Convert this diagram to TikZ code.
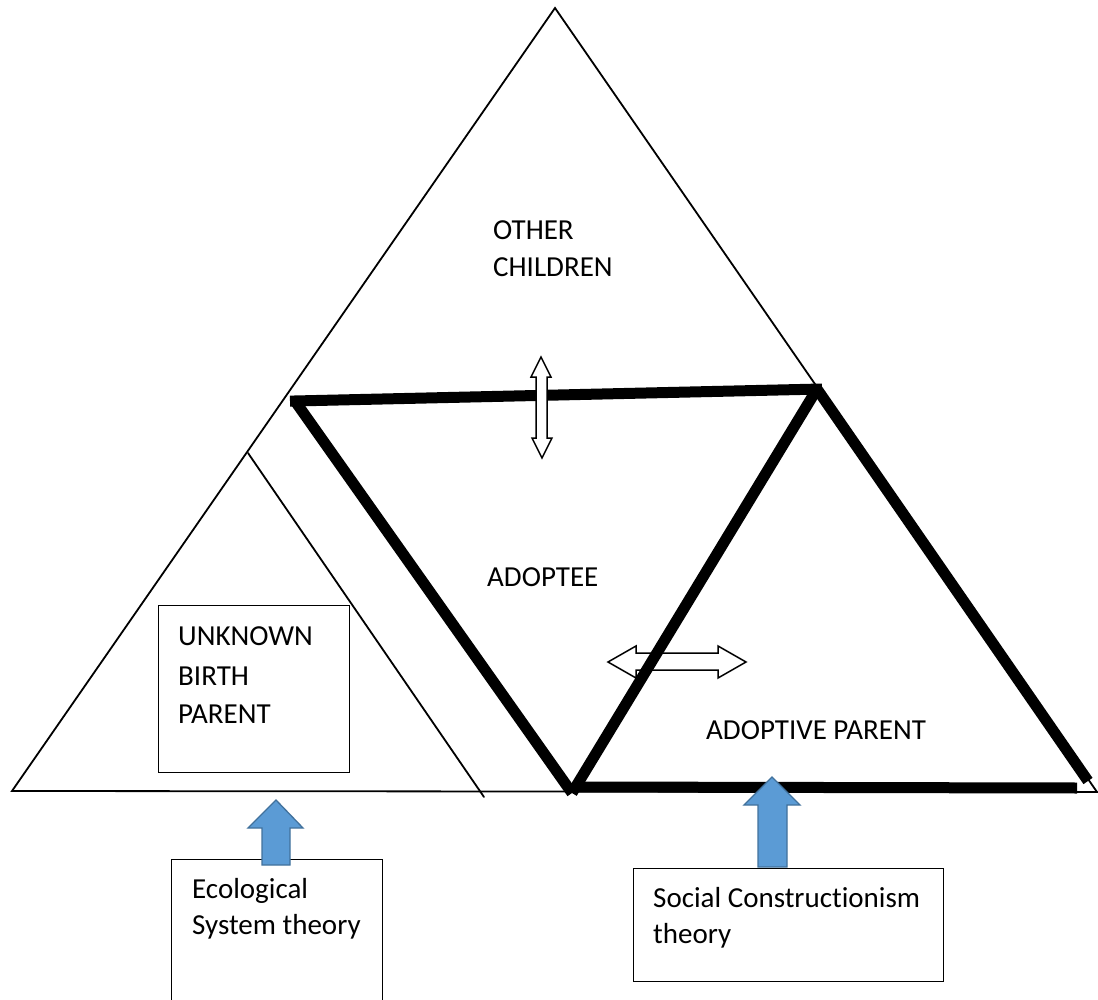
\documentclass[tikz,border=0pt]{standalone}
\usepackage{fontspec}
\setmainfont{Carlito}[Ligatures={NoCommon}]
\begin{document}
\begin{tikzpicture}[x=1pt,y=-1pt,
  thinline/.style={line width=1.8pt,line cap=round},
  thickline/.style={line width=11pt,line cap=butt},
  boxframe/.style={draw,line width=1.3pt,fill=white},
  lbl/.style={anchor=base west,inner sep=0pt,font=\fontsize{29}{33}\selectfont},
  whitearrow/.style={draw,fill=white,line width=1.5pt,line join=miter},
  bluearrow/.style={draw=arrowedge,fill=arrowblue,line width=1.3pt,line join=miter}]
\definecolor{arrowblue}{HTML}{5B9BD5}
\definecolor{arrowedge}{HTML}{41719C}
\useasboundingbox (0,0) rectangle (1098,1000);

% outer triangle and the inner split line
\coordinate (apex) at (555,8);
\coordinate (bl) at (12,791);
\coordinate (br) at (1097,792);
\coordinate (splittop) at (248,453);
\coordinate (splitbot) at (484,797);
\draw[thinline,line join=miter] (bl) -- (apex) -- (br) -- cycle;
\draw[thinline] (splittop) -- (splitbot);

% boxes
\node[boxframe,minimum width=191pt,minimum height=167pt,anchor=north west] (bp) at (158,605) {};
\node[boxframe,minimum width=211pt,minimum height=160pt,anchor=north west] (eco) at (171,859) {};
\node[boxframe,minimum width=310pt,minimum height=113pt,anchor=north west] (soc) at (633,868) {};

% horizontal double arrow (behind the thick lines)
\draw[whitearrow] (608,662) -- (636,646) -- (636,653) -- (718,653) -- (718,646) -- (746,662)
  -- (718,678) -- (718,670) -- (636,670) -- (636,678) -- cycle;

% thick triangles
\coordinate (tl) at (295,401);
\coordinate (tr) at (817,389);
\coordinate (vb) at (572,793);
\coordinate (rr) at (1088,781);
\draw[thickline] (290,401.1) -- (822,389);
\draw[thickline] (tl) -- (vb);
\draw[thickline] (vb) -- (tr);
\draw[thickline] (tr) -- (rr);
\draw[thickline] (575,787) -- (1077,788);

% vertical double arrow (above the thick top line)
\draw[whitearrow] (541,357) -- (551,377) -- (547,377) -- (547,438) -- (552,438) -- (542,458)
  -- (532,438) -- (536,438) -- (536,377) -- (531,377) -- cycle;

% blue block arrows pointing up from the theory boxes
\draw[bluearrow]
  (276,800) -- (303,828) -- (290,828) -- (290,865) -- (262,865) -- (262,828) -- (248,828) -- cycle;
\draw[bluearrow]
  (772,777) -- (800,805) -- (787,805) -- (787,867) -- (758,867) -- (758,805) -- (744,805) -- cycle;

% labels
\node[lbl] (oc1) at (493,240) {OTHER};
\node[lbl] (oc2) at (493,277) {CHILDREN};
\node[lbl] (ad) at (487,586) {ADOPTEE};
\node[lbl] (ap) at (706,739) {ADOPTIVE PARENT};
\node[lbl] (u1) at (178,645) {UNKNOWN};
\node[lbl] (u2) at (178,685) {BIRTH};
\node[lbl] (u3) at (178,723) {PARENT};
\node[lbl] (e1) at (192,898) {Ecological};
\node[lbl] (e2) at (192,934) {System theory};
\node[lbl] (s1) at (653,907) {Social Constructionism};
\node[lbl] (s2) at (653,943) {theory};
\end{tikzpicture}
\end{document}
